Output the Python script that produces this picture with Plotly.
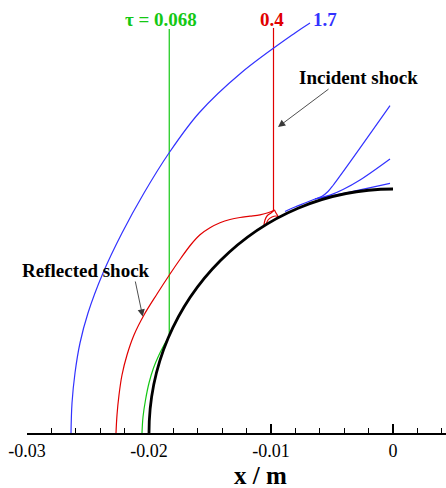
import plotly.graph_objects as go

# ---------------- data (metres) ----------------
BODY_RADIUS = 0.02

# tau = 0.068 (green)
green_incident_x = [-0.01834, -0.01834]
green_incident_y = [0.03311, 0.007977]
green_reflect_x = [-0.01834, -0.018770, -0.019221, -0.019631, -0.020000, -0.020287, -0.020492, -0.020574]
green_reflect_y = [0.007977, 0.007213, 0.006311, 0.005328, 0.004098, 0.002705, 0.001311, 0.0]

# tau = 0.4 (red)
red_incident_x = [-0.009795, -0.009795]
red_incident_y = [0.03320, 0.018279]
red_reflect_x = [-0.009713, -0.010246, -0.010902, -0.011721, -0.012541, -0.013361, -0.014180,
                 -0.015000, -0.015820, -0.016557, -0.017377, -0.018279, -0.019344, -0.020410,
                 -0.021230, -0.021803, -0.022213, -0.022459, -0.022623, -0.022705]
red_reflect_y = [0.018279, 0.018049, 0.017885, 0.017770, 0.017664, 0.017500, 0.017230,
                 0.016820, 0.016246, 0.015451, 0.014344, 0.013033, 0.011393, 0.009672,
                 0.008033, 0.006393, 0.004754, 0.003115, 0.001475, 0.0]
red_slip_x = [-0.009713, -0.010000, -0.010328, -0.010492, -0.010574]
red_slip_y = [0.018279, 0.018033, 0.017787, 0.017459, 0.017049]
red_dome_x = [-0.010410, -0.010246, -0.009918, -0.009590, -0.009344]
red_dome_y = [0.017049, 0.017459, 0.017705, 0.017787, 0.017705]
red_stem_x = [-0.009713, -0.009590, -0.009426]
red_stem_y = [0.018279, 0.018033, 0.017787]

# tau = 1.7 (blue)
blue_reflect_x = [-0.006803, -0.008033, -0.012459, -0.015902, -0.018361, -0.020410, -0.022213,
                  -0.023770, -0.025000, -0.025656, -0.026066, -0.026311, -0.026393]
blue_reflect_y = [0.033607, 0.032787, 0.029508, 0.026230, 0.022951, 0.019672, 0.016393,
                  0.013115, 0.009836, 0.007377, 0.004918, 0.002459, 0.0]
blue_base_x = [-0.008852, -0.008033, -0.007213, -0.006393]
blue_base_y = [0.018156, 0.018525, 0.018852, 0.019180]
blue_l1_x = [-0.006393, -0.005820, -0.005328, -0.004918, -0.000246]
blue_l1_y = [0.019180, 0.019400, 0.019795, 0.020287, 0.026828]
blue_l2_x = [-0.006393, -0.005164, -0.004098, -0.002705, -0.000246]
blue_l2_y = [0.019180, 0.019500, 0.019959, 0.020738, 0.022459]
blue_l3_x = [-0.006393, -0.005164, -0.003525, -0.002131, -0.000246]
blue_l3_y = [0.019180, 0.019420, 0.019754, 0.020057, 0.020467]

tick_vals = [-0.03, -0.02, -0.01, 0.0]
tick_text = ["-0.03", "-0.02", "-0.01", "0"]

GREEN = "rgb(20,200,20)"
RED = "rgb(225,0,0)"
BLUE = "rgb(50,50,255)"
SERIF = "Liberation Serif"

fig = go.Figure()

def add(x, y, color, width=1.2, shape="spline"):
    fig.add_trace(go.Scatter(x=x, y=y, mode="lines", line=dict(color=color, width=width, shape=shape),
                             hoverinfo="skip", showlegend=False))

add(green_incident_x, green_incident_y, GREEN, shape="linear")
add(green_reflect_x, green_reflect_y, GREEN)
add(red_incident_x, red_incident_y, RED, shape="linear")
add(red_reflect_x, red_reflect_y, RED)
add(red_slip_x, red_slip_y, RED)
add(red_dome_x, red_dome_y, RED)
add(red_stem_x, red_stem_y, RED)
add(blue_reflect_x, blue_reflect_y, BLUE)
add(blue_base_x, blue_base_y, BLUE)
add(blue_l1_x, blue_l1_y, BLUE)
add(blue_l2_x, blue_l2_y, BLUE)
add(blue_l3_x, blue_l3_y, BLUE)

# body (quarter circle) as a cubic Bezier path in data coordinates
r = BODY_RADIUS
k = 0.5523 * r
body_path = f"M {-r},0 C {-r},{k} {-k},{r} 0,{r}"
fig.add_shape(type="path", path=body_path, xref="x", yref="y",
              line=dict(color="black", width=2.8))

ann = []
def label(text, x, y, color, size=19):
    ann.append(dict(text=f"<b>{text}</b>", x=x, y=y, xref="x", yref="y",
                    showarrow=False, font=dict(family=SERIF, size=size, color=color),
                    xanchor="center", yanchor="middle"))

label("τ = 0.068", -0.01902, 0.03393, GREEN)
label("0.4", -0.00992, 0.03393, RED)
label("1.7", -0.00557, 0.03393, BLUE)
label("Incident shock", -0.00279, 0.02914, "black")
label("Reflected shock", -0.02516, 0.01336, "black")

# axis title (paper coordinates so it can sit below the plot area)
ann.append(dict(text="<b>x / m</b>", x=0.5561, y=-0.097, xref="paper", yref="paper",
                showarrow=False, font=dict(family=SERIF, size=25, color="black"),
                xanchor="center", yanchor="middle"))

def arrow(x0, y0, x1, y1):
    ann.append(dict(text="", x=x1, y=y1, ax=x0, ay=y0, xref="x", yref="y", axref="x", ayref="y",
                    showarrow=True, arrowhead=2, arrowsize=1.6, arrowwidth=0.9,
                    arrowcolor="#3a3a3a", standoff=0, startstandoff=0))

arrow(-0.005164, 0.028279, -0.009426, 0.025082)
arrow(-0.021148, 0.012541, -0.020516, 0.009549)

fig.update_layout(
    width=446, height=488,
    margin=dict(l=27, r=0, t=0, b=55),
    paper_bgcolor="white", plot_bgcolor="white",
    annotations=ann,
    xaxis=dict(range=[-0.03, 0.004344], showgrid=False, zeroline=False,
               showline=True, linecolor="black", linewidth=2.2,
               ticks="inside", ticklen=9, tickwidth=2, tickcolor="black",
               tickmode="array", tickvals=tick_vals, ticktext=tick_text,
               tickfont=dict(family=SERIF, size=18, color="black"),
               minor=dict(dtick=0.002, tick0=0, ticks="inside", ticklen=5, tickwidth=1,
                          tickcolor="black", showgrid=False)),
    yaxis=dict(range=[0, 0.035492], visible=False, showgrid=False, zeroline=False),
)

fig.write_html("out.html")
